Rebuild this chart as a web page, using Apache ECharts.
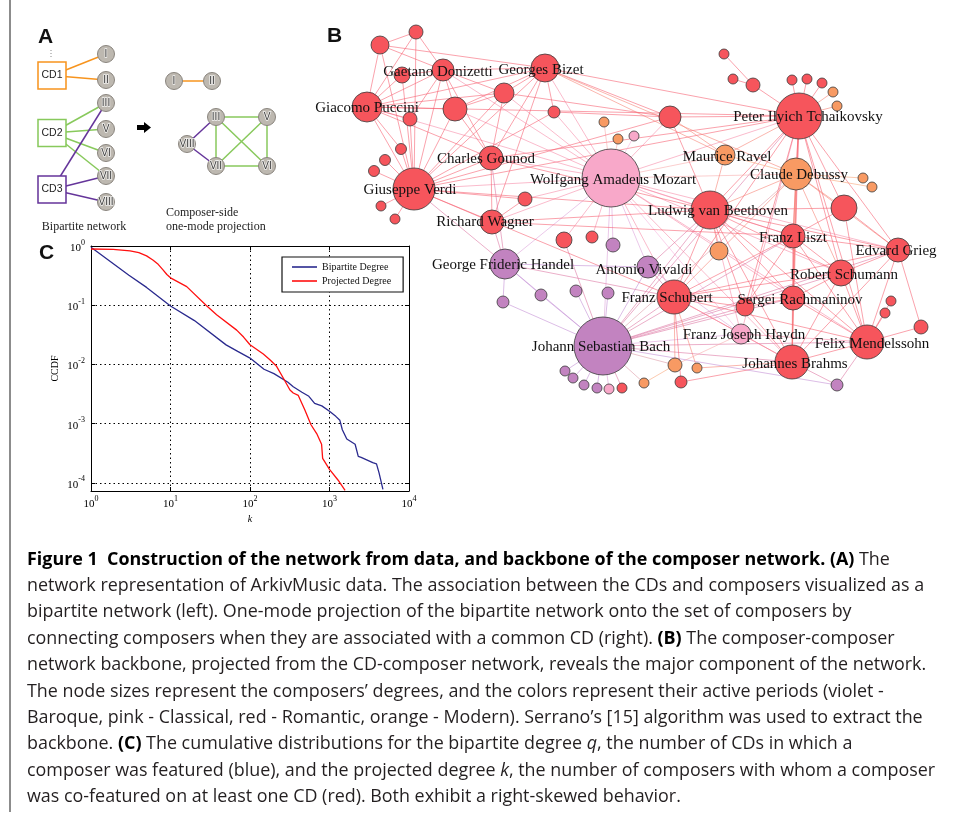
<!DOCTYPE html>
<html><head><meta charset="utf-8">
<script src="https://cdn.jsdelivr.net/npm/echarts/dist/echarts.min.js"></script>
<style>html,body{margin:0;padding:0;background:#fff}#c{width:957px;height:820px}</style>
</head><body><div id="c"></div>
<script>
// ---------------- Panel C data (CCDF) ----------------
const bipartiteK = [1,3,5,10,20,50,70,100,150,200,300,350,450,550,650,800,1000,1200,1350,1450,1650,2100,2300,2500,3500,3900,4200,4700];
const bipartiteCCDF = [0.95,0.32,0.20,0.097,0.055,0.0214,0.0166,0.0128,0.0083,0.0070,0.0050,0.0042,0.0034,0.0029,0.0022,0.0020,0.00162,0.00133,0.00114,0.00079,0.00055,0.00045,0.00028,0.00027,0.00022,0.00021,0.000148,0.0000775];
const projectedK = [1,1.9,3.1,4,5,6,7,8,9,10,16,28,38,68,83,100,147,178,216,262,318,350,405,490,585,690,795,820,1000,1285,1570];
const projectedCCDF = [0.89,0.88,0.83,0.77,0.68,0.58,0.49,0.40,0.33,0.29,0.206,0.10,0.069,0.038,0.029,0.0215,0.0150,0.012,0.0093,0.0059,0.0037,0.0033,0.0030,0.0017,0.00096,0.00068,0.00045,0.00026,0.000169,0.000111,0.000075];
const seriesNames = ['Bipartite Degree','Projected Degree'];

// ---------------- Panel B data (backbone network) ----------------
// id, label, x, y, radius, period (B Baroque, C Classical, R Romantic, M Modern)
const composers = [
 ['ra','',380,45,9,'R'],['rb','',416,32,7,'R'],['rc','',402,75,8,'R'],
 ['doni','Gaetano Donizetti',443,70,11,'R'],['bizet','Georges Bizet',545,68,14,'R'],
 ['pucc','Giacomo Puccini',367,107,15,'R'],['rd','',455,109,12,'R'],['re','',504,93,10,'R'],
 ['rf','',410,119,7,'R'],['rg','',554,112,6,'R'],['rh','',401,149,5.5,'R'],['ri','',385,160,5.5,'R'],
 ['rj','',374,171,5.5,'R'],['goun','Charles Gounod',491,158,12,'R'],['verdi','Giuseppe Verdi',414,189,21,'R'],
 ['rk','',381,206,5,'R'],['rl','',395,219,5,'R'],['rm','',525,199,7,'R'],
 ['mozart','Wolfgang Amadeus Mozart',611,178,29,'C'],['ma','',604,122,5,'M'],['mb','',618,139,5,'M'],
 ['ca','',634,136,5,'C'],['rn','',670,117,11,'R'],['ravel','Maurice Ravel',725,155,10,'M'],
 ['beet','Ludwig van Beethoven',710,210,19,'R'],['ro','',564,240,8,'R'],['rp','',592,237,6,'R'],
 ['ba','',613,245,7,'B'],['viv','Antonio Vivaldi',648,267,11,'B'],['mc','',719,251,9,'M'],
 ['rq','',724,54,5,'R'],['rr','',733,79,5,'R'],['rs','',753,85,7,'R'],['rt','',792,80,5,'R'],
 ['ru','',807,79,5,'R'],['rv','',822,83,5,'R'],['md','',833,92,5,'M'],['me','',837,106,5,'M'],
 ['tchai','Peter Ilyich Tchaikovsky',799,116,23,'R'],['deb','Claude Debussy',796,174,16,'M'],
 ['mf','',863,178,5,'M'],['mg','',872,187,5,'M'],['rw','',844,208,13,'R'],
 ['liszt','Franz Liszt',793,236,12,'R'],['grieg','Edvard Grieg',898,250,12,'R'],
 ['schum','Robert Schumann',841,273,13,'R'],['schub','Franz Schubert',674,297,17,'R'],
 ['rx','',745,307,9,'R'],['rach','Sergei Rachmaninov',793,298,12,'R'],
 ['ry','',891,301,5,'R'],['rz','',885,313,5,'R'],['raa','',921,327,7,'R'],
 ['haydn','Franz Joseph Haydn',741,334,10,'C'],['mend','Felix Mendelssohn',867,342,17,'R'],
 ['brahms','Johannes Brahms',792,362,17,'R'],['bb','',837,385,6,'B'],
 ['mh','',697,368,5,'M'],['mi','',675,365,7,'M'],['mj','',644,383,5,'M'],['rab','',681,382,6,'R'],
 ['bach','Johann Sebastian Bach',603,346,29,'B'],['bc','',541,295,6,'B'],['bd','',576,291,6,'B'],
 ['be','',608,293,6,'B'],['bf','',503,302,6,'B'],['bg','',565,371,5,'B'],['bh','',573,378,5,'B'],
 ['bi','',584,385,5,'B'],['bj','',597,388,5,'B'],['cb','',609,389,5,'C'],['rac','',622,388,5,'R'],
 ['wagner','Richard Wagner',492,222,12,'R'],['handel','George Frideric Handel',505,264,15,'B']
];
const backboneLinks = [
 'tchai: rs rt ru rv md me rn deb ravel beet liszt schum rach mend brahms grieg rw schub mozart bach verdi bizet pucc haydn rx goun',
 'rq: rs', 'rr: rs',
 'mozart: beet haydn bach schub viv handel verdi goun bizet rn ma mb ca brahms mend schum liszt deb ravel ro rp ba wagner rm pucc doni rd re rg grieg rach',
 'bach: handel viv beet schub haydn brahms mend schum bc bd be bf bg bh bi bj cb rac liszt rach deb grieg rx bb ro mj mi',
 'verdi: pucc doni ra rb rc rf rh ri rj rk rl goun bizet rd re wagner beet schub rm handel rg rn',
 'pucc: ra rb rc doni bizet rd rf re goun rh',
 'doni: ra rb rc rd re bizet goun rf',
 'bizet: re rd rg goun rn ravel deb wagner ra',
 'beet: schub brahms mend schum liszt haydn rach grieg rw deb ravel mc rn viv rx wagner goun',
 'schub: schum mend brahms liszt haydn rach grieg rx mi mh rab deb viv handel',
 'brahms: schum mend liszt rach haydn grieg bb rx mh rab deb',
 'mend: schum grieg ry rz raa bb liszt rach haydn rw',
 'deb: ravel mf mg rw liszt grieg schum rach',
 'grieg: rw raa schum liszt', 'liszt: schum rach rx rw', 'rach: schum rx',
 'handel: viv bf wagner goun bc', 'wagner: goun rm liszt', 'goun: re rd',
 'haydn: mi viv', 'mi: mj', 'rn: re rg ravel', 'ra: rb', 'rd: re'
];
const periodColors = {B:'#c283c0', C:'#f8a8c9', R:'#f6555c', M:'#f89a63'};
// label nudges (style only)
const labelNudge = {tchai:[9,1], beet:[8,1], schub:[-7,1], rach:[7,2], wagner:[-7,0], goun:[-5,1], doni:[-5,2], bizet:[-4,2],
  mend:[5,2], viv:[-4,3], mozart:[2,2], brahms:[3,2], schum:[3,2], ravel:[2,2], deb:[3,1], haydn:[3,1], grieg:[-2,1], bach:[-2,1], handel:[-2,1], verdi:[-4,1], liszt:[0,2]};

// ---------------- Panel A data (bipartite example) ----------------
const cdNames = ['CD1','CD2','CD3'];
const cdPos = [[52,75.5],[52,133],[52,189.5]];
const cdColors = ['#f7941e','#88c95c','#65359a'];
const romanNames = ['I','II','III','V','VI','VII','VIII'];
const romanPosBip = [[106,54],[106,80],[106,103],[106,129],[106,153],[106,176],[106,202]];
const bipLinks = [['CD1','I'],['CD1','II'],['CD2','III'],['CD2','V'],['CD2','VI'],['CD2','VII'],['CD3','III'],['CD3','VII'],['CD3','VIII']];
const romanPosProj = {I:[174,81],II:[212,81],III:[216,117],V:[267,117],VIII:[187,144],VII:[216,166],VI:[267,166]};
const projLinks = [['I','II',0],['III','V',1],['III','VII',1],['III','VI',1],['V','VII',1],['V','VI',1],['VII','VI',1],['VIII','III',2],['VIII','VII',2]];

// ---------------- Caption ----------------
const captionLines = [
 '{b|Figure 1  Construction of the network from data, and backbone of the composer network. (A)} The',
 'network representation of ArkivMusic data. The association between the CDs and composers visualized as a',
 'bipartite network (left). One-mode projection of the bipartite network onto the set of composers by',
 'connecting composers when they are associated with a common CD (right). {b|(B)} The composer-composer',
 'network backbone, projected from the CD-composer network, reveals the major component of the network.',
 'The node sizes represent the composers\u2019 degrees, and the colors represent their active periods (violet -',
 'Baroque, pink - Classical, red - Romantic, orange - Modern). Serrano\u2019s [15] algorithm was used to extract the',
 'backbone. {b|(C)} The cumulative distributions for the bipartite degree {i|q}, the number of CDs in which a',
 'composer was featured (blue), and the projected degree {i|k}, the number of composers with whom a composer',
 'was co-featured on at least one CD (red). Both exhibit a right-skewed behavior.'
];

// ---------------- build ----------------
function hexRgb(h){return [parseInt(h.slice(1,3),16),parseInt(h.slice(3,5),16),parseInt(h.slice(5,7),16)];}
const period = {}; composers.forEach(c => period[c[0]] = c[5]);
const seen = new Set(); const netLinks = [];
backboneLinks.forEach(s => {
  const [src, rest] = s.split(':');
  rest.trim().split(/\s+/).forEach(t => {
    const key = [src, t].sort().join('|');
    if (seen.has(key)) return; seen.add(key);
    const a = hexRgb(periodColors[period[src]]), b = hexRgb(periodColors[period[t]]);
    const m = a.map((v,i)=>Math.round((v+b[i])/2));
    netLinks.push({source: src, target: t, lineStyle: {color: `rgba(${m[0]},${m[1]+10},${m[2]+20},0.58)`}});
  });
});

const SERIF = '"Liberation Serif","Times New Roman",serif';
const SANS = '"Liberation Sans",Arial,sans-serif';
const CAPF = '"Open Sans","Noto Sans",sans-serif';

const ctx = document.createElement('canvas').getContext('2d');
ctx.font = '100px ' + CAPF;
const capSize = 100 * 898 / ctx.measureText(captionLines[1]).width;

const logFmt = v => { const e = Math.log10(v), r = Math.round(e); if (Math.abs(e - r) > 1e-6) return ''; return '{b|10}{s|' + r + '}'; };
const logRich = {b:{fontFamily:SERIF,fontSize:11,color:'#000',verticalAlign:'bottom',lineHeight:15}, s:{fontFamily:SERIF,fontSize:8,color:'#000',verticalAlign:'top',lineHeight:9}};

const grayNode = {color:'#bdb8b0', borderColor:'#8a857e', borderWidth:1};
const romanLabel = {show:true, position:'inside', fontFamily:SANS, fontSize:10, color:'#404040', textBorderColor:'rgba(255,255,255,0.8)', textBorderWidth:1.5};

const bipData = cdNames.map((n,i)=>({name:n, value:cdPos[i], symbol:'rect', symbolSize:[28,27],
    itemStyle:{color:'#fff', borderColor:cdColors[i], borderWidth:1.5},
    label:{show:true, position:'inside', fontFamily:SANS, fontSize:10.5, color:'#222'}}))
  .concat(romanNames.map((n,i)=>({name:n, value:romanPosBip[i], symbol:'circle', symbolSize:17, itemStyle:grayNode, label:romanLabel})));
const bipLinkData = bipLinks.map(l => ({source:l[0], target:l[1], lineStyle:{color:cdColors[cdNames.indexOf(l[0])]}}));
const projData = Object.keys(romanPosProj).map(n => ({name:n, value:romanPosProj[n], symbolSize:17, itemStyle:grayNode, label:romanLabel}));
const projLinkData = projLinks.map(l => ({source:l[0], target:l[1], lineStyle:{color:cdColors[l[2]]}}));

const graphic = [
  {type:'line', shape:{x1:10,y1:0,x2:10,y2:812}, style:{stroke:'#8c8c8c', lineWidth:2}},
  {type:'line', shape:{x1:51,y1:50,x2:51,y2:58}, style:{stroke:'#888', lineWidth:1, lineDash:[1,2]}},
  {type:'polygon', shape:{points:[[137,125],[144,125],[144,122],[151,127.5],[144,133],[144,130],[137,130]]}, style:{fill:'#000'}},
  {type:'text', x:38, y:37, style:{text:'A', fontFamily:SANS, fontWeight:'bold', fontSize:21, fill:'#111', textVerticalAlign:'middle'}},
  {type:'text', x:327, y:36, style:{text:'B', fontFamily:SANS, fontWeight:'bold', fontSize:21, fill:'#111', textVerticalAlign:'middle'}},
  {type:'text', x:39, y:253, style:{text:'C', fontFamily:SANS, fontWeight:'bold', fontSize:21, fill:'#111', textVerticalAlign:'middle'}},
  {type:'text', x:84, y:227, style:{text:'Bipartite network', fontFamily:SERIF, fontSize:12, fill:'#222', textAlign:'center', textVerticalAlign:'middle'}},
  {type:'text', x:166, y:213, style:{text:'Composer-side', fontFamily:SERIF, fontSize:12, fill:'#222', textVerticalAlign:'middle'}},
  {type:'text', x:166, y:227, style:{text:'one-mode projection', fontFamily:SERIF, fontSize:12, fill:'#222', textVerticalAlign:'middle'}}
];
captionLines.forEach((t,i) => {
  graphic.push({type:'text', x:27, y:559.5 + 26.4*i, style:{text:t, fontFamily:CAPF, fontSize:capSize, fill:'#231f20', textVerticalAlign:'middle',
    rich:{b:{fontFamily:CAPF, fontSize:capSize, fontWeight:'bold', fill:'#000'}, i:{fontFamily:CAPF, fontSize:capSize, fontStyle:'italic', fill:'#231f20'}}}});
});

const chart = echarts.init(document.getElementById('c'), null, {renderer:'canvas'});
chart.setOption({
  animation:false,
  backgroundColor:'#fff',
  grid:[{left:91, top:246, width:318, height:245}, {left:0, top:0, width:957, height:820}],
  legend:{data:seriesNames.map(n=>({name:n, icon:'rect'})), orient:'vertical', left:282, top:257, itemWidth:25, itemHeight:1.6, itemGap:4,
    padding:[5,12,6,10], borderColor:'#111', borderWidth:1.2, backgroundColor:'#fff',
    textStyle:{fontFamily:SERIF, fontSize:10, color:'#111', lineHeight:10}},
  xAxis:[
    {type:'log', logBase:10, min:1, max:10000, gridIndex:0, name:'k', nameLocation:'middle', nameGap:23,
     nameTextStyle:{fontFamily:SERIF, fontStyle:'italic', fontSize:10, color:'#000'},
     axisLine:{lineStyle:{color:'#000', width:1}}, axisTick:{inside:true, length:4, lineStyle:{color:'#000'}},
     axisLabel:{formatter:logFmt, rich:logRich, margin:4}, splitLine:{show:true, lineStyle:{color:'#000', type:[1.5,3], width:1}}},
    {type:'log', logBase:10, min:1, max:10000, gridIndex:0, position:'top', axisLine:{lineStyle:{color:'#000'}},
     axisTick:{inside:true, length:4, lineStyle:{color:'#000'}}, axisLabel:{show:false}, splitLine:{show:false}},
    {type:'value', min:0, max:957, gridIndex:1, show:false}
  ],
  yAxis:[
    {type:'log', logBase:10, min:0.000073, max:1, gridIndex:0, name:'CCDF', nameLocation:'middle', nameGap:31, nameRotate:90,
     nameTextStyle:{fontFamily:SERIF, fontSize:10, color:'#000'},
     axisLine:{lineStyle:{color:'#000', width:1}}, axisTick:{inside:true, length:4, lineStyle:{color:'#000'}},
     axisLabel:{formatter:logFmt, rich:logRich, margin:6}, splitLine:{show:true, lineStyle:{color:'#000', type:[1.5,3], width:1}}},
    {type:'log', logBase:10, min:0.000073, max:1, gridIndex:0, position:'right', axisLine:{lineStyle:{color:'#000'}},
     axisTick:{inside:true, length:4, lineStyle:{color:'#000'}}, axisLabel:{show:false}, splitLine:{show:false}},
    {type:'value', min:0, max:820, inverse:true, gridIndex:1, show:false}
  ],
  series:[
    {name:seriesNames[0], type:'line', xAxisIndex:0, yAxisIndex:0, symbol:'none', data:bipartiteK.map((k,i)=>[k,bipartiteCCDF[i]]),
     lineStyle:{color:'#2a2a8e', width:1.3}, itemStyle:{color:'#2a2a8e'}, z:5},
    {name:seriesNames[1], type:'line', xAxisIndex:0, yAxisIndex:0, symbol:'none', data:projectedK.map((k,i)=>[k,projectedCCDF[i]]),
     lineStyle:{color:'#ff1010', width:1.3}, itemStyle:{color:'#ff1010'}, z:5},
    {type:'graph', coordinateSystem:'cartesian2d', xAxisIndex:2, yAxisIndex:2, silent:true,
     data: composers.map(c => ({name:c[0], value:[c[2],c[3]], symbolSize:2*c[4],
        itemStyle:{color:periodColors[c[5]], borderColor:'#3a3a3a', borderWidth:0.8},
        label:{show:!!c[1], formatter:c[1] || ' ', offset:labelNudge[c[0]] || [0,1]}})),
     links: netLinks,
     label:{position:'inside', fontFamily:SERIF, fontSize:15, color:'#111'},
     lineStyle:{width:1, opacity:1, curveness:0}},
    {type:'graph', coordinateSystem:'cartesian2d', xAxisIndex:2, yAxisIndex:2, silent:true,
     data:bipData, links:bipLinkData, lineStyle:{width:1.5, opacity:1}},
    {type:'graph', coordinateSystem:'cartesian2d', xAxisIndex:2, yAxisIndex:2, silent:true,
     data:projData, links:projLinkData, lineStyle:{width:1.5, opacity:1}}
  ],
  graphic: graphic
});
</script></body></html>
